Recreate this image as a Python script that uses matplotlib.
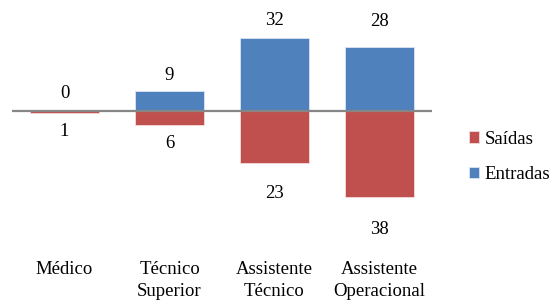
import matplotlib
matplotlib.use("Agg")
import matplotlib.pyplot as plt
import numpy as np

categories = ["Médico", "Técnico\nSuperior", "Assistente\nTécnico", "Assistente\nOperacional"]
entradas = [0, 9, 32, 28]
saidas = [1, 6, 23, 38]

plt.rcParams['font.family'] = 'serif'
plt.rcParams['font.serif'] = ['Liberation Serif', 'Times New Roman', 'DejaVu Serif']
W, H = 552, 300
fig = plt.figure(figsize=(W/100, H/100), dpi=100)

ax_left, ax_right = 12, 432
ax_top, ax_bottom = 10, 250
ax = fig.add_axes([ax_left/W, 1-ax_bottom/H, (ax_right-ax_left)/W, (ax_bottom-ax_top)/H])

x = np.arange(len(categories))
bw = 0.65
blue = "#4F81BD"
red = "#C0504D"
b_in = ax.bar(x, entradas, bw, color=blue, edgecolor="#dbe5f1", linewidth=0.6, label="Entradas", zorder=2)
b_out = ax.bar(x, [-v for v in saidas], bw, color=red, edgecolor="#f2dcdb", linewidth=0.6, label="Saídas", zorder=2)

ppu = 2.27
zero_px = 111
ax.set_ylim(-(ax_bottom-zero_px)/ppu, (zero_px-ax_top)/ppu)
ax.set_xlim(-0.5, len(categories)-0.5)
ax.axhline(0, color="#868686", lw=1.6, zorder=3)

fs = 13.5
up_off = [18, 15, 18, 26]
dn_off = [18, 19, 30, 32]
for i in range(len(categories)):
    ax.annotate(str(entradas[i]), (x[i], entradas[i]), xytext=(0, up_off[i]),
                textcoords="offset pixels", ha="center", va="center", fontsize=fs)
    ax.annotate(str(saidas[i]), (x[i], -saidas[i]), xytext=(0, -dn_off[i]),
                textcoords="offset pixels", ha="center", va="center", fontsize=fs)

ax.set_xticks(x)
ax.set_xticklabels(categories, fontsize=fs, linespacing=1.4)
ax.tick_params(axis="x", length=0, pad=8)
ax.set_yticks([])
for s in ax.spines.values():
    s.set_visible(False)

fig.legend(handles=[b_out, b_in], labels=["Saídas", "Entradas"], loc="center left",
           bbox_to_anchor=(469/W, 1-157/H), frameon=False, fontsize=fs,
           handlelength=0.55, handleheight=0.55, handletextpad=0.3,
           labelspacing=1.0, borderpad=0, borderaxespad=0)

fig.savefig("out.png", dpi=100)
